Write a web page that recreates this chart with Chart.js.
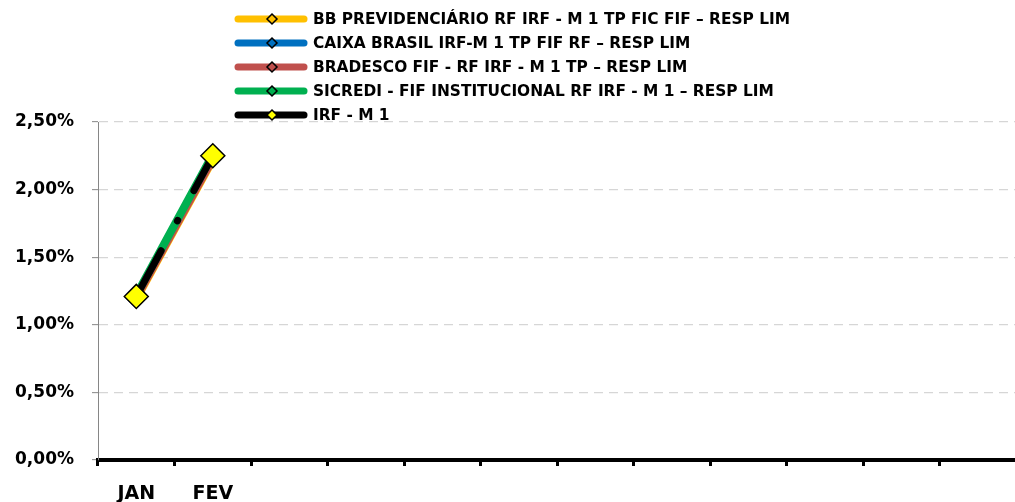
<!DOCTYPE html>
<html>
<head>
<meta charset="utf-8">
<script src="https://cdn.jsdelivr.net/npm/chart.js@4.4.1/dist/chart.umd.min.js"></script>
<style>
  html, body { margin: 0; padding: 0; background: #fff; overflow: hidden; }
  canvas { display: block; }
</style>
</head>
<body>
<canvas id="c" width="1030" height="502"></canvas>
<script>
// Months of the year (only the first two have data so far)
const months = ['JAN', 'FEV', '', '', '', '', '', '', '', '', '', ''];

// Series names
const nameBB = 'BB PREVIDENCIÁRIO RF IRF - M 1 TP FIC FIF – RESP LIM';
const nameCaixa = 'CAIXA BRASIL IRF-M 1 TP FIF RF – RESP LIM';
const nameBradesco = 'BRADESCO FIF - RF IRF - M 1 TP – RESP LIM';
const nameSicredi = 'SICREDI - FIF INSTITUCIONAL RF IRF - M 1 – RESP LIM';
const nameIrfm1 = 'IRF - M 1';

// Accumulated return, in percent
const bbValues = [1.19, 2.22];
const caixaValues = [1.21, 2.24];
const bradescoValues = [1.20, 2.23];
const sicrediValues = [1.22, 2.26];
const irfm1Values = [1.21, 2.25];

// Y axis ticks, in percent
const yTicks = [0, 0.5, 1, 1.5, 2, 2.5];

const FONT = '"DejaVu Sans", Verdana, sans-serif';

function fundSeries(label, data, color, order) {
  return {
    label, data, order,
    borderColor: color,
    backgroundColor: color,
    borderWidth: 8,
    borderCapStyle: 'round',
    borderJoinStyle: 'round',
    pointStyle: 'rectRot',
    pointRadius: 5,
    pointBackgroundColor: color,
    pointBorderColor: '#000',
    pointBorderWidth: 1.5,
    fill: false,
    tension: 0
  };
}

const datasets = [
  fundSeries(nameBB, bbValues, '#FFC000', 3),
  fundSeries(nameCaixa, caixaValues, '#0070C0', 4),
  fundSeries(nameBradesco, bradescoValues, '#C0504D', 2),
  fundSeries(nameSicredi, sicrediValues, '#00B050', 1),
  {
    label: nameIrfm1,
    data: irfm1Values,
    order: 0,
    borderColor: '#000',
    backgroundColor: '#000',
    borderWidth: 7,
    borderDash: [52, 34, 0.5, 34],
    borderCapStyle: 'round',
    pointStyle: 'rectRot',
    pointRadius: 12,
    pointBackgroundColor: '#FFFF00',
    pointBorderColor: '#000',
    pointBorderWidth: 1.5,
    legendMarker: '#FFFF00',
    fill: false,
    tension: 0
  }
];

// Legend: a thick line sample with a diamond marker, followed by the name
const lineLegend = {
  id: 'lineLegend',
  afterDraw(chart) {
    const ctx = chart.ctx;
    const x0 = 238, x1 = 304, mx = 272, textX = 313;
    const top = 19, step = 24;
    chart.data.datasets.forEach((ds, i) => {
      const y = top + i * step;
      ctx.save();
      ctx.strokeStyle = ds.borderColor;
      ctx.lineWidth = 7;
      ctx.lineCap = 'round';
      ctx.beginPath();
      ctx.moveTo(x0, y);
      ctx.lineTo(x1, y);
      ctx.stroke();
      const r = 5;
      ctx.beginPath();
      ctx.moveTo(mx, y - r);
      ctx.lineTo(mx + r, y);
      ctx.lineTo(mx, y + r);
      ctx.lineTo(mx - r, y);
      ctx.closePath();
      ctx.fillStyle = ds.legendMarker || ds.borderColor;
      ctx.fill();
      ctx.lineWidth = 1.5;
      ctx.strokeStyle = '#000';
      ctx.stroke();
      ctx.fillStyle = '#000';
      ctx.font = 'bold 15.4px ' + FONT;
      ctx.textAlign = 'left';
      ctx.textBaseline = 'middle';
      ctx.fillText(ds.label, textX, y + 1);
      ctx.restore();
    });
  }
};

function draw() {
  new Chart(document.getElementById('c'), {
    type: 'line',
    data: { labels: months, datasets },
    plugins: [lineLegend],
    options: {
      responsive: false,
      animation: false,
      layout: { padding: { top: 122, right: 5.6, left: 0, bottom: 0 } },
      plugins: {
        legend: { display: false },
        tooltip: { enabled: false },
        title: { display: false }
      },
      scales: {
        x: {
          offset: true,
          afterFit: s => { s.height = 42; },
          grid: {
            offset: true,
            drawOnChartArea: false,
            drawTicks: true,
            tickLength: 6,
            tickWidth: 3,
            tickColor: '#000',
            color: '#000'
          },
          border: { color: '#000', width: 4 },
          ticks: {
            autoSkip: false,
            maxRotation: 0,
            color: '#000',
            padding: 17,
            font: { family: FONT, weight: 'bold', size: 19 }
          }
        },
        y: {
          min: 0,
          max: 2.5,
          afterBuildTicks: s => { s.ticks = yTicks.map(v => ({ value: v })); },
          afterFit: s => { s.width = 98; },
          grid: {
            color: '#d6d6d6',
            lineWidth: 1.3,
            tickColor: '#868686',
            tickLength: 6,
            tickWidth: 1
          },
          border: { color: '#868686', width: 1, dash: [9, 6] },
          ticks: {
            color: '#000',
            padding: 18,
            font: { family: FONT, weight: 'bold', size: 17 },
            callback: v => v.toFixed(2).replace('.', ',') + '%'
          }
        }
      }
    }
  });
}

document.fonts.load('bold 16px "DejaVu Sans"').then(draw, draw);
</script>
</body>
</html>
